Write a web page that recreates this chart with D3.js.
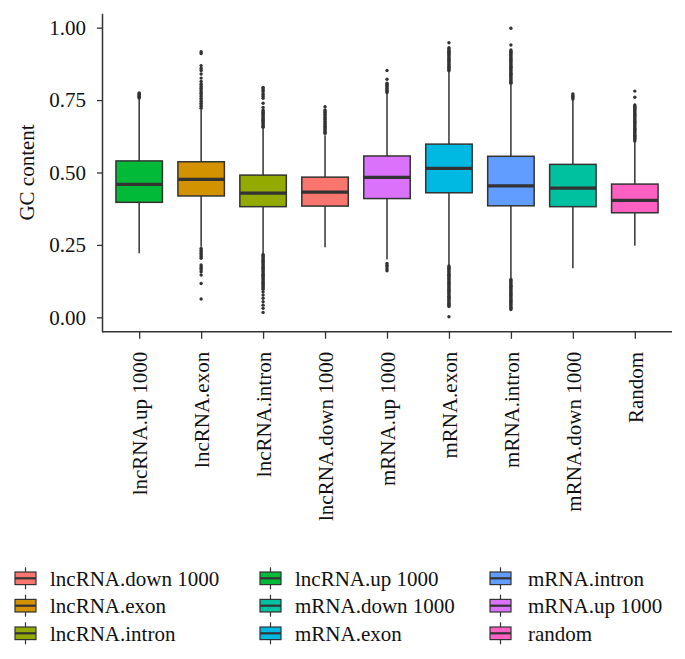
<!DOCTYPE html>
<html>
<head>
<meta charset="utf-8">
<script src="https://cdn.jsdelivr.net/npm/d3@7"></script>
<style>
  html, body { margin: 0; padding: 0; background: #fff; }
  svg { display: block; }
  text { font-family: "Liberation Serif", "DejaVu Serif", serif; fill: #111; }
</style>
</head>
<body>
<svg id="chart" width="685" height="659"></svg>
<script>
// ---------- data ----------
const categories = ["lncRNA.up 1000","lncRNA.exon","lncRNA.intron","lncRNA.down 1000","mRNA.up 1000","mRNA.exon","mRNA.intron","mRNA.down 1000","Random"];
const fillGroup  = ["lncRNA.up 1000","lncRNA.exon","lncRNA.intron","lncRNA.down 1000","mRNA.up 1000","mRNA.exon","mRNA.intron","mRNA.down 1000","random"];
const legendLabels = ["lncRNA.down 1000","lncRNA.exon","lncRNA.intron","lncRNA.up 1000","mRNA.down 1000","mRNA.exon","mRNA.intron","mRNA.up 1000","random"];
const legendColors = ["#F8766D","#D39200","#93AA00","#00BA38","#00C19F","#00B9E3","#619CFF","#DB72FB","#FF61C3"];

const lowerWhisker = [0.221, 0.244, 0.221, 0.242, 0.200, 0.181, 0.135, 0.169, 0.247];
const q1           = [0.397, 0.419, 0.382, 0.384, 0.410, 0.430, 0.385, 0.382, 0.361];
const median       = [0.459, 0.476, 0.429, 0.432, 0.483, 0.514, 0.454, 0.446, 0.404];
const q3           = [0.540, 0.537, 0.491, 0.484, 0.557, 0.598, 0.556, 0.528, 0.460];
const upperWhisker = [0.754, 0.716, 0.653, 0.629, 0.773, 0.848, 0.805, 0.750, 0.606];

const outliers = [
  // lncRNA.up 1000
  [0.757,0.760,0.763,0.766,0.769,0.772,0.775],
  // lncRNA.exon
  [0.917,0.911,0.869,0.860,0.852,0.840,0.826,0.814,0.806,0.802,0.796,0.791,0.785,0.779,0.774,0.768,0.762,0.756,0.750,0.745,0.739,0.733,0.728,0.722,
   0.238,0.232,0.227,0.221,0.215,0.210,0.204,0.181,0.175,0.169,0.163,0.157,0.146,0.117,0.063],
  // lncRNA.intron
  [0.794,0.789,0.785,0.780,0.772,0.768,0.762,0.756,0.739,0.725,0.716,0.712,0.708,0.704,0.700,0.696,0.692,0.688,0.684,0.680,0.676,0.672,0.668,0.664,0.660,0.656,
   0.217,0.213,0.209,0.205,0.201,0.197,0.193,0.189,0.185,0.181,0.177,0.173,0.169,0.165,0.161,0.157,0.153,0.149,0.145,0.141,0.137,0.133,0.129,0.125,0.121,0.117,0.113,0.109,0.105,0.101,0.097,
   0.088,0.077,0.066,0.054,0.042,0.031,0.017],
  // lncRNA.down 1000
  [0.727,0.716,0.712,0.708,0.703,0.699,0.695,0.690,0.686,0.682,0.677,0.672,0.668,0.664,0.660,0.655,0.651,0.647,0.643,0.639,0.635],
  // mRNA.up 1000
  [0.852,0.822,0.808,0.804,0.800,0.796,0.792,0.788,0.784,0.780,0.776,
   0.186,0.180,0.174,0.167,0.161],
  // mRNA.exon
  [0.948,0.931,0.927,0.923,0.919,0.915,0.911,0.907,0.903,0.899,0.895,0.891,0.887,0.883,0.879,0.875,0.871,0.867,0.863,0.859,0.855,0.851,
   0.177,0.173,0.169,0.165,0.161,0.157,0.153,0.149,0.145,0.141,0.137,0.133,0.129,0.125,0.121,0.117,0.113,0.109,0.105,0.101,0.097,0.093,0.089,0.085,0.081,0.077,0.073,0.069,0.065,0.061,0.057,0.053,0.049,0.045,0.041,0.037,0.002],
  // mRNA.intron
  [0.998,0.940,0.923,0.919,0.915,0.911,0.907,0.903,0.899,0.895,0.891,0.887,0.883,0.879,0.875,0.871,0.867,0.863,0.859,0.855,0.851,0.847,0.843,0.839,0.835,0.831,0.827,0.823,0.819,0.815,0.811,0.808,
   0.131,0.127,0.123,0.119,0.115,0.111,0.107,0.103,0.099,0.095,0.091,0.087,0.083,0.079,0.075,0.071,0.067,0.063,0.059,0.055,0.051,0.047,0.043,0.039,0.035,0.031,0.027],
  // mRNA.down 1000
  [0.771,0.766,0.762,0.758,0.754],
  // Random
  [0.781,0.760,0.733,0.729,0.725,0.721,0.717,0.713,0.709,0.705,0.701,0.697,0.693,0.689,0.685,0.681,0.677,0.673,0.669,0.665,0.661,0.657,0.653,0.649,0.645,0.641,0.637,0.633,0.629,0.625,0.621,0.617,0.613,0.609]
];

const yTicks = [0, 0.25, 0.5, 0.75, 1.0];
const yTickLabels = ["0.00","0.25","0.50","0.75","1.00"];
const yTitle = "GC content";

// ---------- layout ----------
const svg = d3.select("#chart");
svg.append("rect").attr("width",685).attr("height",659).attr("fill","#fff");

const panel = {left: 102, right: 672, top: 13.2, bottom: 331.8};
const x = d3.scalePoint().domain(categories).range([panel.left, panel.right]).padding(0.6);
const y = d3.scaleLinear().domain([-0.05, 1.05]).range([panel.bottom, panel.top]);
const color = d3.scaleOrdinal().domain(legendLabels).range(legendColors);
const boxW = x.step() * 0.75;
const ink = "#333333";
const fs = 21;

// boxes
const rows = categories.map((c, i) => ({
  cat: c, grp: fillGroup[i], lo: lowerWhisker[i], q1: q1[i], med: median[i], q3: q3[i], hi: upperWhisker[i], out: outliers[i]
}));

const g = svg.append("g");
const bx = g.selectAll("g.box").data(rows).join("g").attr("class","box");

bx.append("line")
  .attr("x1", d => x(d.cat)).attr("x2", d => x(d.cat))
  .attr("y1", d => y(d.q3)).attr("y2", d => y(d.hi))
  .attr("stroke", ink).attr("stroke-width", 1.5);
bx.append("line")
  .attr("x1", d => x(d.cat)).attr("x2", d => x(d.cat))
  .attr("y1", d => y(d.q1)).attr("y2", d => y(d.lo))
  .attr("stroke", ink).attr("stroke-width", 1.5);
bx.append("rect")
  .attr("x", d => x(d.cat) - boxW/2).attr("width", boxW)
  .attr("y", d => y(d.q3)).attr("height", d => y(d.q1) - y(d.q3))
  .attr("fill", d => color(d.grp)).attr("stroke", ink).attr("stroke-width", 1.5);
bx.append("line")
  .attr("x1", d => x(d.cat) - boxW/2).attr("x2", d => x(d.cat) + boxW/2)
  .attr("y1", d => y(d.med)).attr("y2", d => y(d.med))
  .attr("stroke", ink).attr("stroke-width", 3.2);
bx.selectAll("circle").data(d => d.out.map(v => ({cat: d.cat, v}))).join("circle")
  .attr("cx", d => x(d.cat)).attr("cy", d => y(d.v)).attr("r", 1.7)
  .attr("fill", ink);

// axes
const yAxis = d3.axisLeft(y).tickValues(yTicks).tickFormat((d, i) => yTickLabels[i]).tickSize(5).tickSizeOuter(0).tickPadding(11);
const ya = svg.append("g").attr("transform", `translate(${panel.left},0)`).call(yAxis);
ya.select(".domain").attr("stroke", ink).attr("stroke-width", 1.5);
ya.selectAll(".tick line").attr("stroke", ink).attr("stroke-width", 1.3);
ya.selectAll(".tick text").attr("font-size", fs).attr("font-family", "Liberation Serif").attr("fill", "#111");

const xAxis = d3.axisBottom(x).tickSize(7).tickSizeOuter(0);
const xa = svg.append("g").attr("transform", `translate(0,${panel.bottom})`).call(xAxis);
xa.select(".domain").attr("stroke", ink).attr("stroke-width", 1.5).attr("d", `M${panel.left},0H${panel.right}`);
xa.selectAll(".tick line").attr("stroke", ink).attr("stroke-width", 1.3);
xa.selectAll(".tick text")
  .attr("font-size", fs).attr("font-family", "Liberation Serif").attr("fill", "#111")
  .attr("y", 0).attr("x", -20).attr("dy", "0.35em")
  .attr("transform", "rotate(-90)").style("text-anchor", "end");

// y title
svg.append("text")
  .attr("transform", `translate(27,${(panel.top + panel.bottom)/2}) rotate(-90)`)
  .attr("text-anchor", "middle").attr("dy", "0.35em")
  .attr("font-size", fs).text(yTitle);

// legend
const colX = [15, 260, 490];
const textX = [50, 295, 528];
const rowY = [578.3, 605.7, 633.3];
const keyW = 21, keyH = 12.6;
const lg = svg.append("g").selectAll("g").data(legendLabels).join("g")
  .attr("transform", (d, i) => `translate(${colX[Math.floor(i/3)]},${rowY[i%3]})`);
lg.append("line").attr("x1", keyW/2).attr("x2", keyW/2).attr("y1", -11).attr("y2", 11)
  .attr("stroke", ink).attr("stroke-width", 1.2);
lg.append("rect").attr("x", 0).attr("y", -keyH/2).attr("width", keyW).attr("height", keyH)
  .attr("fill", d => color(d)).attr("stroke", ink).attr("stroke-width", 1.2);
lg.append("line").attr("x1", 0).attr("x2", keyW).attr("y1", 0).attr("y2", 0)
  .attr("stroke", ink).attr("stroke-width", 2.2);
lg.append("text")
  .attr("x", (d, i) => textX[Math.floor(i/3)] - colX[Math.floor(i/3)])
  .attr("dy", "0.35em").attr("font-size", fs).text(d => d);
</script>
</body>
</html>
